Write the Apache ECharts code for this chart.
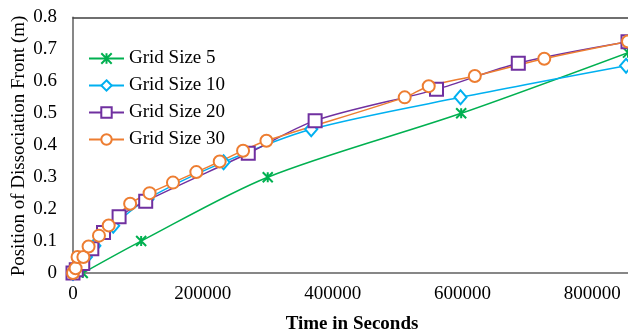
<!DOCTYPE html>
<html>
<head>
<meta charset="utf-8">
<script src="https://cdn.jsdelivr.net/npm/echarts@6/dist/echarts.min.js"></script>
<style>html,body{margin:0;padding:0;background:#fff}#c{width:628px;height:335px}</style>
</head>
<body>
<div id="c"></div>
<script>
var seriesNames = ['Grid Size 5', 'Grid Size 10', 'Grid Size 20', 'Grid Size 30'];
var xTickLabels = ['0', '200000', '400000', '600000', '800000'];
var yTickLabels = ['0', '0.1', '0.2', '0.3', '0.4', '0.5', '0.6', '0.7', '0.8'];

var g5x = [15000, 105000, 300000, 598000, 855000];
var g5y = [0, 0.1, 0.3, 0.5, 0.69];

var g10x = [0, 8000, 20000, 33000, 62000, 115000, 232000, 367000, 597000, 852000];
var g10y = [0, 0.02, 0.05, 0.085, 0.148, 0.232, 0.347, 0.45, 0.55, 0.649];

var g20x = [0, 5000, 15000, 29000, 47000, 71000, 112000, 270000, 373000, 560000, 686000, 855000];
var g20y = [0, 0.01, 0.03, 0.076, 0.127, 0.176, 0.225, 0.375, 0.477, 0.575, 0.657, 0.724];

var g30x = [0, 4000, 7000, 16000, 24000, 40000, 55000, 88000, 118000, 154000, 190000, 226000, 262000, 298000, 511000, 548000, 619000, 726000, 855000];
var g30y = [0, 0.015, 0.05, 0.05, 0.083, 0.117, 0.149, 0.217, 0.25, 0.283, 0.316, 0.349, 0.383, 0.414, 0.55, 0.585, 0.617, 0.671, 0.725];

function pairs(xs, ys) { return xs.map(function (x, i) { return [x, ys[i]]; }); }

var colors = ['#00B050', '#00B0F0', '#7030A0', '#ED7D31'];
var FONT = '"Liberation Serif", "Times New Roman", serif';
var starPath = 'path://M0,0L10,10M10,0L0,10M5,0L5,10';

var chart = echarts.init(document.getElementById('c'), null, {renderer: 'canvas'});
chart.setOption({
  animation: false,
  backgroundColor: '#fff',
  grid: {left: 73, top: 17.5, right: 0, bottom: 62},
  legend: {
    orient: 'vertical', left: 88, top: 49, padding: 0,
    itemWidth: 35, itemHeight: 13, itemGap: 8,
    data: seriesNames,
    textStyle: {fontFamily: FONT, fontSize: 19, color: '#000'}
  },
  xAxis: [{
    type: 'value', min: 0, max: 855000, interval: 200000,
    axisLine: {show: true, lineStyle: {color: '#878787', width: 2}},
    axisTick: {show: false},
    splitLine: {show: false},
    axisLabel: {fontFamily: FONT, fontSize: 19, color: '#000', margin: 12, showMaxLabel: false,
      formatter: function (v) { if (v % 200000 !== 0) return ''; var i = v / 200000; return xTickLabels[i] !== undefined ? xTickLabels[i] : ''; }}
  }, {
    type: 'value', position: 'top', min: 0, max: 855000, interval: 200000,
    axisLine: {show: true, onZero: false, lineStyle: {color: '#404040', width: 1.5}},
    axisTick: {show: false}, axisLabel: {show: false}, splitLine: {show: false}
  }],
  yAxis: {
    type: 'value', min: 0, max: 0.8, interval: 0.1,
    axisLine: {show: true, lineStyle: {color: '#878787', width: 2}},
    axisTick: {show: false},
    splitLine: {show: false},
    axisLabel: {fontFamily: FONT, fontSize: 19, color: '#000', margin: 16,
      formatter: function (v) { return yTickLabels[Math.round(v * 10)]; }}
  },
  graphic: [
    {type: 'text', x: 352, y: 324, style: {text: 'Time in Seconds', font: 'bold 19px ' + FONT, fill: '#000', align: 'center', verticalAlign: 'middle'}},
    {type: 'text', x: 19, y: 146, rotation: Math.PI / 2, style: {text: 'Position of Dissociation Front (m)', font: '19px ' + FONT, fill: '#000', align: 'center', verticalAlign: 'middle'}}
  ],
  series: [
    {name: seriesNames[0], type: 'line', smooth: 0.3, clip: false, data: pairs(g5x, g5y),
      symbol: starPath, symbolSize: 10,
      lineStyle: {color: colors[0], width: 1.5},
      itemStyle: {color: colors[0], borderColor: colors[0], borderWidth: 2}},
    {name: seriesNames[1], type: 'line', smooth: 0.3, clip: false, data: pairs(g10x, g10y),
      symbol: 'diamond', symbolSize: [12, 14],
      lineStyle: {color: colors[1], width: 1.5},
      itemStyle: {color: '#fff', borderColor: colors[1], borderWidth: 2}},
    {name: seriesNames[2], type: 'line', smooth: 0.3, clip: false, data: pairs(g20x, g20y),
      symbol: 'rect', symbolSize: 13,
      lineStyle: {color: colors[2], width: 1.5},
      itemStyle: {color: '#fff', borderColor: colors[2], borderWidth: 2}},
    {name: seriesNames[3], type: 'line', smooth: 0.3, clip: false, data: pairs(g30x, g30y),
      symbol: 'circle', symbolSize: 12,
      lineStyle: {color: colors[3], width: 1.5},
      itemStyle: {color: '#fff', borderColor: colors[3], borderWidth: 2}}
  ]
});
</script>
</body>
</html>
